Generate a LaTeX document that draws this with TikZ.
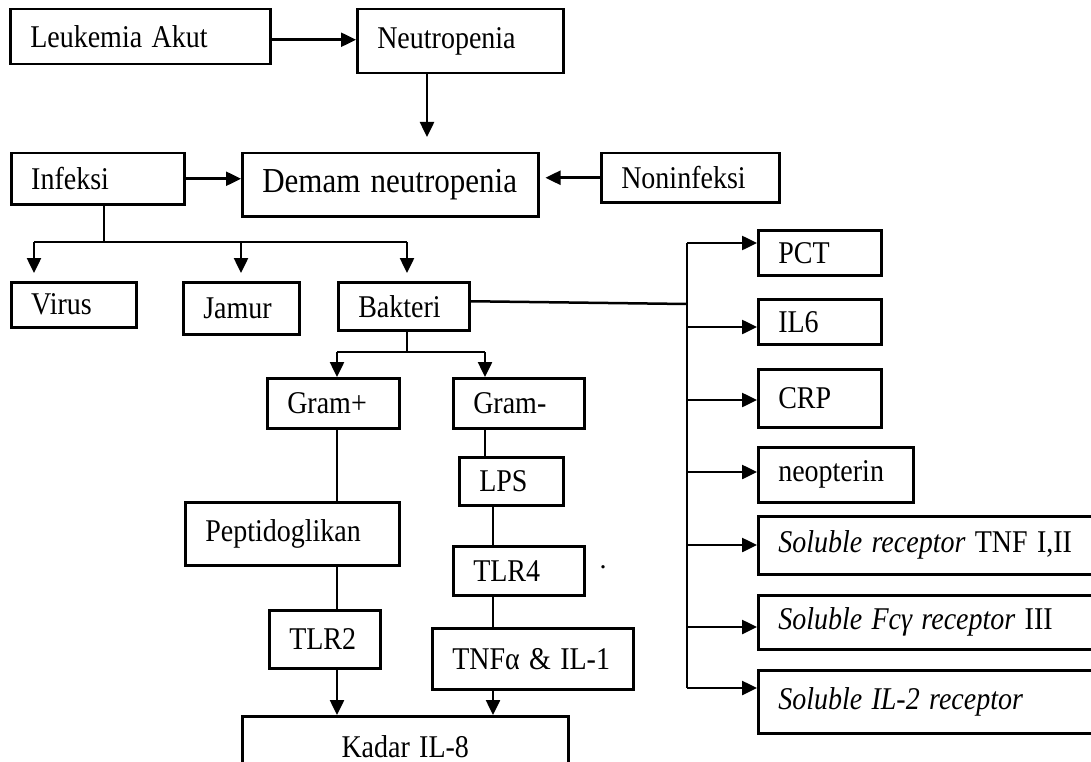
\documentclass[tikz,border=0pt]{standalone}
\usepackage{graphicx}
\usepackage{fontspec}
\setmainfont{Liberation Serif}
\usetikzlibrary{arrows.meta,calc}
\tikzset{
  box/.style={draw, line width=2.5pt, anchor=north west, inner xsep=0pt, inner ysep=0pt,
    align=left, font=\fontsize{28}{32}\selectfont},
  ln/.style={line width=2.5pt},
  arr/.style={line width=2.5pt, -{Triangle[length=15pt,width=14pt]}},
}
\newcommand{\tall}[1]{\scalebox{1}[1.13]{#1}}
\newcommand{\bx}[7][]{%
  \pgfmathsetmacro{\bw}{#5-#3}\pgfmathsetmacro{\bh}{#6-#4}%
  \node[box,minimum width=\bw pt,minimum height=\bh pt,text width=\bw pt,#1] (#2) at (#3,#4) {\hspace*{20pt}\tall{#7}};}
\begin{document}
\begin{tikzpicture}[x=1pt,y=-1pt]
\useasboundingbox (0,0) rectangle (1091,762);
\clip (0,0) rectangle (1091,762);
% boxes
\bx{leuk}{9}{8}{269}{63}{Leukemia Akut}
\bx{neut}{356}{8}{562}{72}{Neutropenia}
\bx{inf}{10}{152}{183}{203}{Infeksi}
\bx[font=\fontsize{31}{35}\selectfont]{demam}{241}{152}{537}{215}{Demam neutropenia}
\bx{non}{600}{152}{778}{201}{Noninfeksi}
\bx{virus}{10}{281}{135}{326}{Virus}
\bx{jamur}{182}{281}{298}{333}{Jamur}
\bx{bakteri}{337}{281}{468}{329}{Bakteri}
\bx{gramp}{266}{377}{398}{427}{Gram+}
\bx{gramn}{452}{377}{583}{427}{Gram-}
\bx{pep}{184}{501}{398}{564}{Peptidoglikan}
\bx{tlr2}{268}{609}{379}{667}{TLR2}
\bx{lps}{458}{456}{562}{504}{LPS}
\bx{tlr4}{452}{545}{583}{594}{TLR4}
\bx{tnf}{431}{627}{632}{688}{TNFα \& IL-1}
\node[box,align=center,minimum width=326pt,minimum height=60pt,text width=326pt] (kadar) at (241,715) {\tall{Kadar IL-8}};
\bx{pct}{757}{229}{880}{274}{PCT}
\bx{il6}{757}{298}{880}{343}{IL6}
\bx{crp}{757}{368}{880}{426}{CRP}
\bx{neo}{757}{446}{912}{501}{neopterin}
\bx{stnf}{757}{515}{1100}{573}{\textit{Soluble receptor} TNF I,II}
\bx{sfc}{757}{594}{1100}{648}{\textit{Soluble Fcγ receptor} III}
\bx{sil}{757}{669}{1100}{732}{\textit{Soluble IL-2 receptor}}
\node[font=\fontsize{28}{32}\selectfont, inner sep=0pt, anchor=base] (dot) at (603,568) {.};
% top connectors
\draw[arr] ([yshift=-3pt]leuk.east) -- ([yshift=-3pt]leuk.east -| neut.west);
\draw[arr, shorten >=15pt] ([xshift=71pt]neut.south west) -- ([xshift=71pt]neut.south west |- demam.north);
\draw[arr] (inf.east) -- (inf.east -| demam.west);
\draw[arr, shorten >=6pt] (non.west) -- (non.west -| demam.east);
% infeksi tree
\coordinate (ib) at (104,242);
\coordinate (iv) at (34,242);
\coordinate (ij) at (241,242);
\coordinate (ik) at (407,242);
\draw[ln] (ib |- inf.south) -- (ib);
\draw[ln] (iv) -- (ik);
\draw[arr, shorten >=8pt] (iv) -- (iv |- virus.north);
\draw[arr, shorten >=8pt] (ij) -- (ij |- jamur.north);
\draw[arr, shorten >=8pt] (ik) -- (ik |- bakteri.north);
% bakteri to markers
\coordinate (bt) at (687,304);
\coordinate (b1) at (687,243);
\coordinate (b2) at (687,327);
\coordinate (b3) at (687,400);
\coordinate (b4) at (687,472);
\coordinate (b5) at (687,545);
\coordinate (b6) at (687,627);
\coordinate (b7) at (687,688);
\draw[ln] ([yshift=5pt]bakteri.east) -- (bt);
\draw[ln] (b1) -- (b7);
\draw[arr] (b1) -- (b1 -| pct.west);
\draw[arr] (b2) -- (b2 -| il6.west);
\draw[arr] (b3) -- (b3 -| crp.west);
\draw[arr] (b4) -- (b4 -| neo.west);
\draw[arr] (b5) -- (b5 -| stnf.west);
\draw[arr] (b6) -- (b6 -| sfc.west);
\draw[arr] (b7) -- (b7 -| sil.west);
% bakteri tree
\coordinate (bk) at (407,352);
\coordinate (gp) at (337,352);
\coordinate (gn) at (485,352);
\coordinate (gy) at (493,600);
\draw[ln] (bk |- bakteri.south) -- (bk);
\draw[ln] (gp) -- (gn);
\draw[arr] (gp) -- (gp |- gramp.north);
\draw[arr] (gn) -- (gn |- gramn.north);
\draw[ln] (gp |- gramp.south) -- (gp |- pep.north);
\draw[ln] (gp |- pep.south) -- (gp |- tlr2.north);
\draw[arr] (gp |- tlr2.south) -- (gp |- kadar.north);
\draw[ln] (gn |- gramn.south) -- (gn |- lps.north);
\draw[ln] (gy |- lps.south) -- (gy |- tlr4.north);
\draw[ln] (gy |- tlr4.south) -- (gy |- tnf.north);
\draw[arr] (gy |- tnf.south) -- (gy |- kadar.north);
\end{tikzpicture}
\end{document}
